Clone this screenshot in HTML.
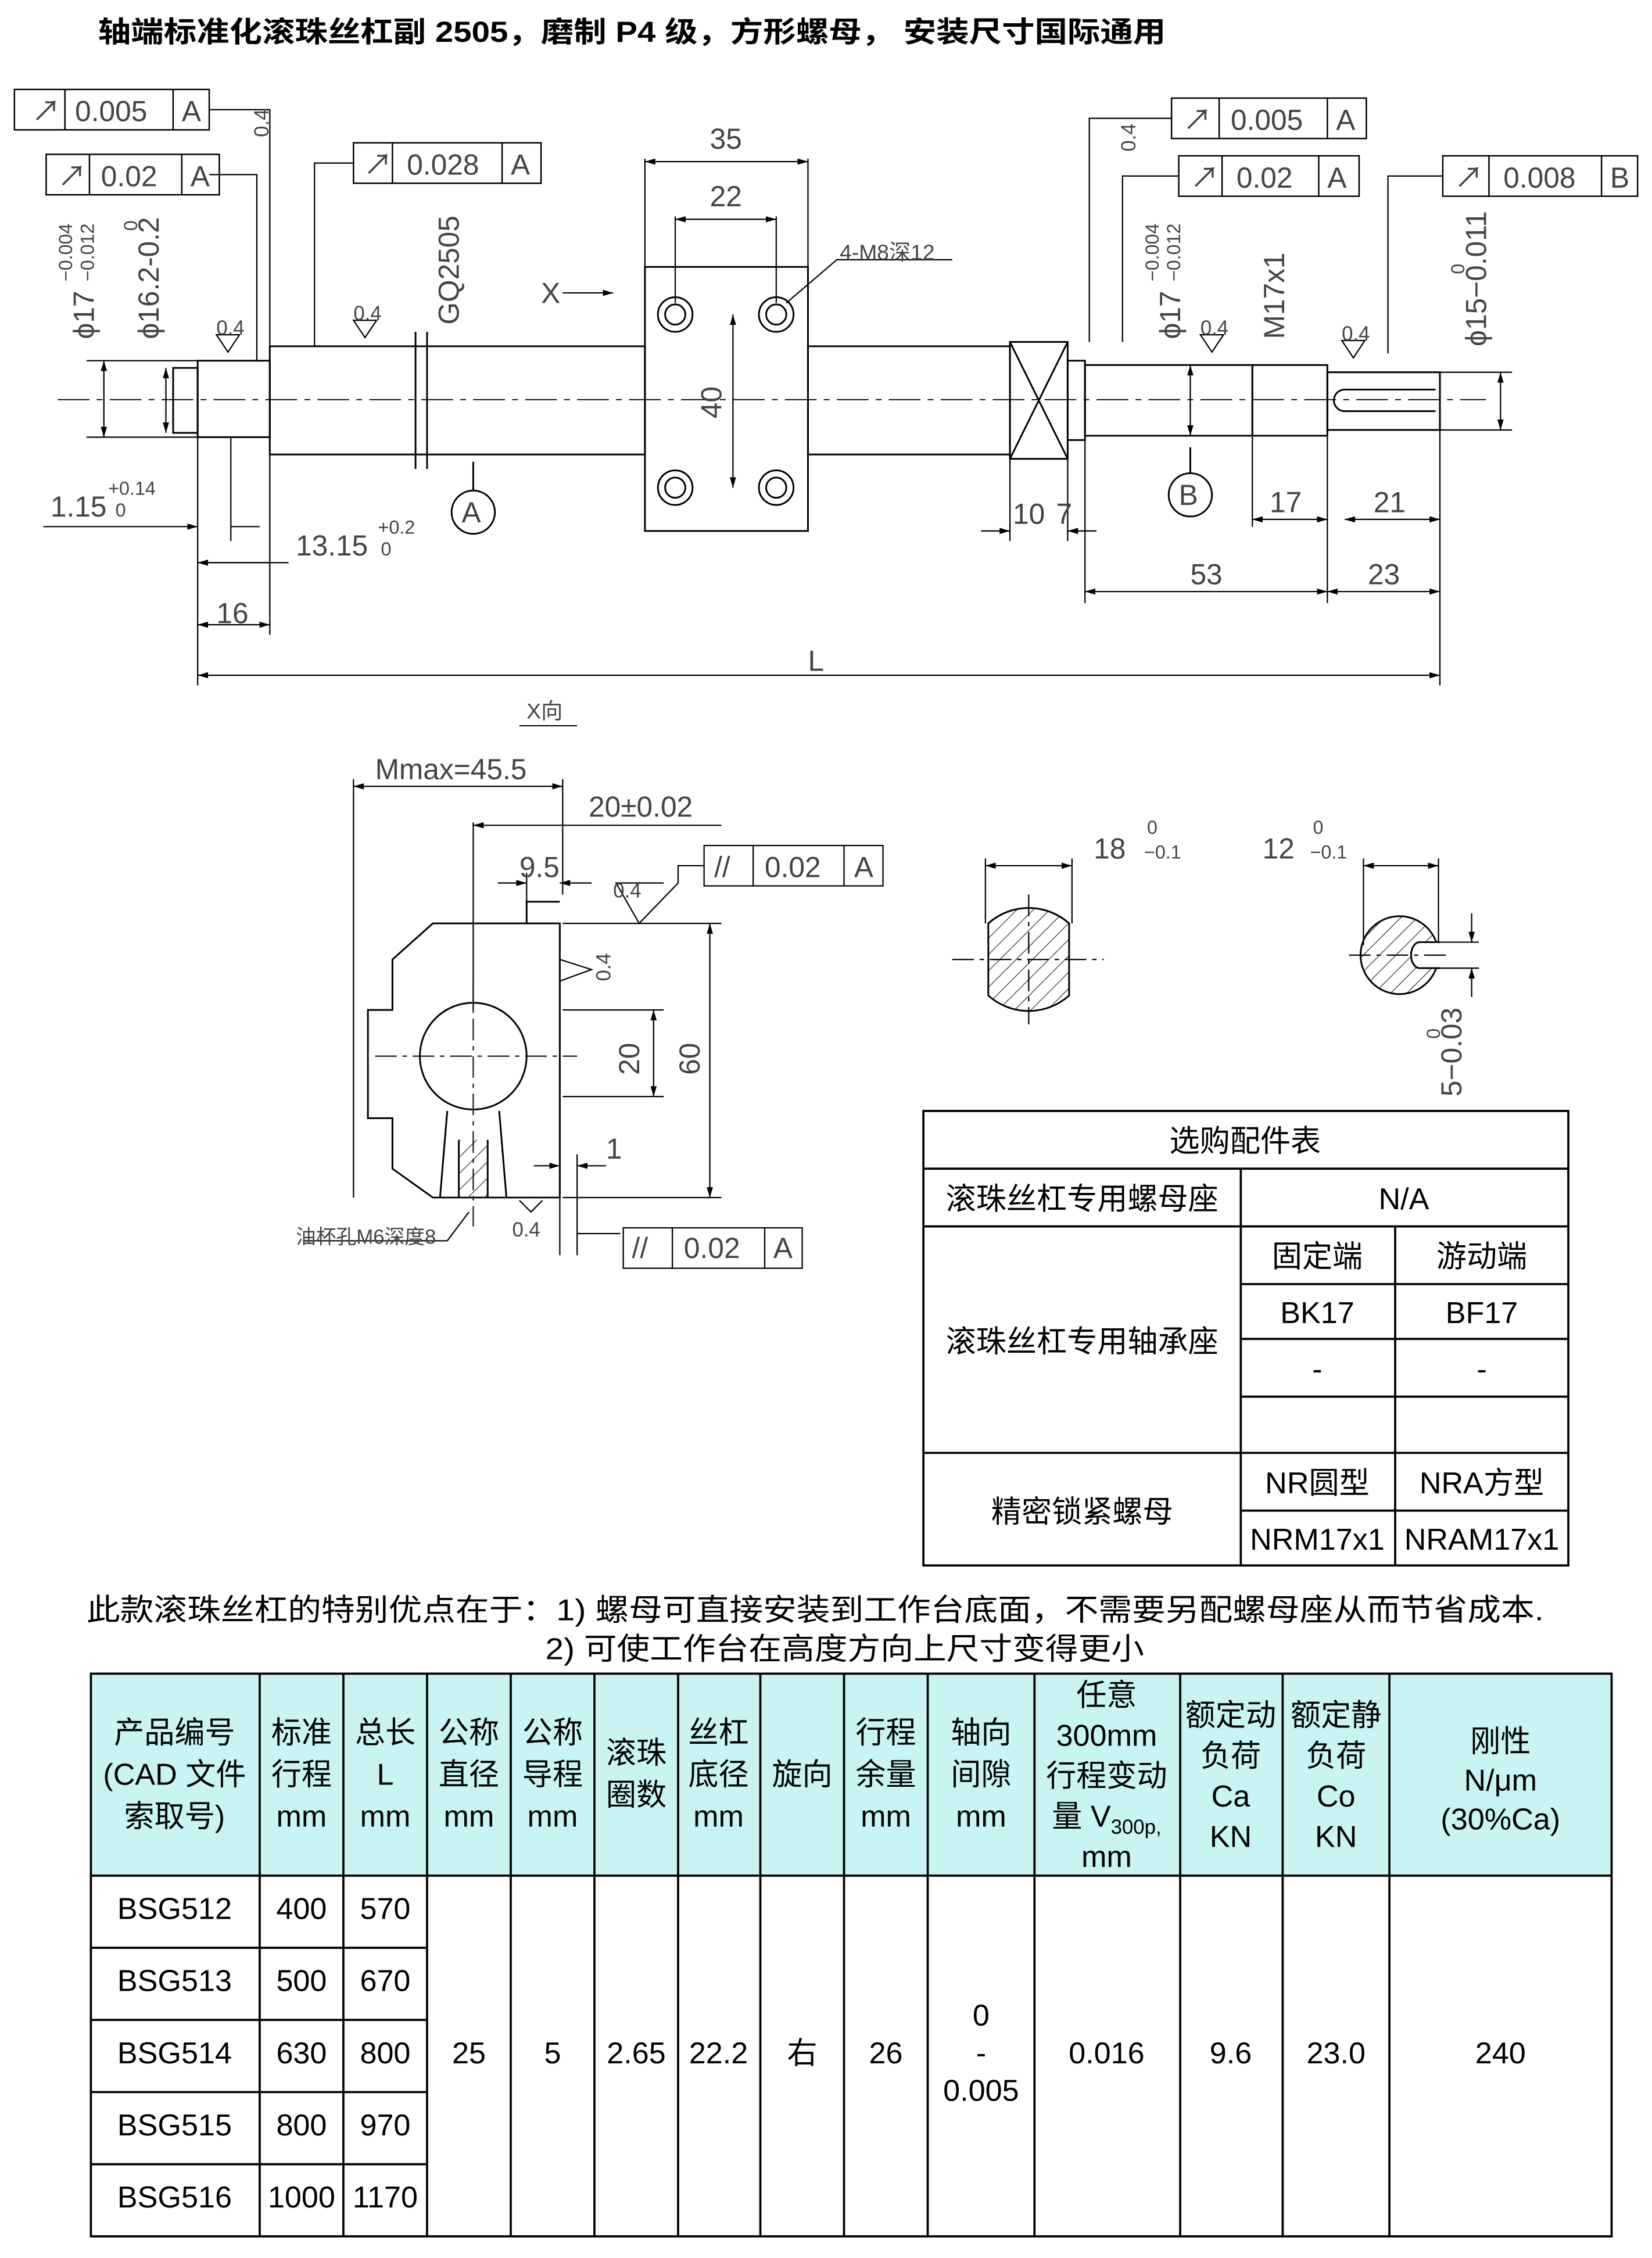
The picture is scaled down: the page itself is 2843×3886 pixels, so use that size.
<!DOCTYPE html>
<html><head><meta charset="utf-8"><style>
html,body{margin:0;padding:0;background:#fff}
svg{display:block}
text{font-family:"Liberation Sans","Noto Sans CJK SC",sans-serif}
.d{fill:#444;font-size:20px}
.t{fill:#000;font-size:21px}
</style></head><body>
<svg width="2843" height="3886" viewBox="0 0 1145 1565" preserveAspectRatio="none" xmlns="http://www.w3.org/2000/svg">
<defs>
<marker id="a" viewBox="0 0 10 10" refX="10" refY="5" markerWidth="8" markerHeight="8" orient="auto-start-reverse"><path d="M0,2 L10,5 L0,8z" fill="#000"/></marker>
<pattern id="h" width="8" height="8" patternUnits="userSpaceOnUse" patternTransform="rotate(45)"><line x1="0" y1="0" x2="0" y2="8" stroke="#333" stroke-width="1"/></pattern>
</defs>
<rect width="1145" height="1565" fill="#fff"/>
<text x="68" y="29" style="font-size:20px;font-weight:bold" fill="#000" textLength="740" lengthAdjust="spacingAndGlyphs">轴端标准化滚珠丝杠副 2505，磨制 P4 级，方形螺母， 安装尺寸国际通用</text>

<g stroke="#000" stroke-width="1.2" fill="none">
<rect x="120" y="255" width="17" height="45"/>
<rect x="137" y="250" width="50" height="53"/>
<rect x="187" y="240" width="260" height="75"/>
<rect x="560" y="240" width="140" height="75"/>
<rect x="447" y="185" width="113" height="183"/>
<rect x="700" y="237" width="40" height="81"/>
<path d="M700,237 L740,318 M740,237 L700,318"/>
<rect x="740" y="250" width="12" height="55"/>
<rect x="752" y="253" width="116" height="49"/>
<rect x="868" y="253" width="52" height="49"/>
<rect x="920" y="258" width="78" height="40"/>
<path d="M932,270 L995,270 M932,285 L995,285 M932,270 A7,7 0 0 0 932,285"/>
<circle cx="468" cy="218" r="12"/><circle cx="468" cy="218" r="7"/>
<circle cx="538" cy="218" r="12"/><circle cx="538" cy="218" r="7"/>
<circle cx="468" cy="338" r="12"/><circle cx="468" cy="338" r="7"/>
<circle cx="538" cy="338" r="12"/><circle cx="538" cy="338" r="7"/>
<path d="M288,230 L288,325 M296,230 L296,325"/>
<circle cx="328" cy="355" r="15"/><circle cx="825" cy="343" r="15"/>
<path d="M328,340 L328,320 M825,328 L825,310"/>
</g>
<line x1="40" y1="277" x2="1030" y2="277" stroke="#000" stroke-width="0.8" stroke-dasharray="22,5,4,5"/>
<text x="320" y="362" class="d">A</text><text x="817" y="350" class="d">B</text>

<g stroke="#000" stroke-width="0.9" fill="none">
<path d="M137,300 L137,475 M998,298 L998,475 M187,315 L187,440 M752,305 L752,418 M920,302 L920,418 M868,302 L868,365 M700,318 L700,375 M740,318 L740,375 M160,303 L160,375"/>
<line x1="137" y1="468" x2="998" y2="468" marker-start="url(#a)" marker-end="url(#a)"/>
<line x1="137" y1="433" x2="187" y2="433" marker-start="url(#a)" marker-end="url(#a)"/>
<line x1="752" y1="410" x2="920" y2="410" marker-start="url(#a)" marker-end="url(#a)"/>
<line x1="920" y1="410" x2="998" y2="410" marker-start="url(#a)" marker-end="url(#a)"/>
<line x1="868" y1="360" x2="920" y2="360" marker-start="url(#a)" marker-end="url(#a)"/>
<line x1="932" y1="360" x2="998" y2="360" marker-start="url(#a)" marker-end="url(#a)"/>
<line x1="680" y1="368" x2="700" y2="368" marker-end="url(#a)"/>
<line x1="760" y1="368" x2="740" y2="368" marker-end="url(#a)"/>
<line x1="30" y1="365" x2="137" y2="365" marker-end="url(#a)"/>
<line x1="180" y1="365" x2="160" y2="365"/>
<line x1="200" y1="390" x2="137" y2="390"/>
<line x1="137" y1="390" x2="187" y2="390" marker-start="url(#a)"/>
<line x1="447" y1="110" x2="447" y2="185"/><line x1="560" y1="110" x2="560" y2="185"/>
<line x1="447" y1="112" x2="560" y2="112" marker-start="url(#a)" marker-end="url(#a)"/>
<line x1="468" y1="150" x2="468" y2="210"/><line x1="538" y1="150" x2="538" y2="210"/>
<line x1="468" y1="152" x2="538" y2="152" marker-start="url(#a)" marker-end="url(#a)"/>
<line x1="508" y1="218" x2="508" y2="338" marker-start="url(#a)" marker-end="url(#a)"/>
<line x1="72" y1="250" x2="72" y2="303" marker-start="url(#a)" marker-end="url(#a)"/>
<line x1="60" y1="250" x2="137" y2="250"/><line x1="60" y1="303" x2="137" y2="303"/>
<line x1="115" y1="255" x2="115" y2="300" marker-start="url(#a)" marker-end="url(#a)"/>
<line x1="825" y1="253" x2="825" y2="302" marker-start="url(#a)" marker-end="url(#a)"/>
<line x1="1040" y1="258" x2="1040" y2="298" marker-start="url(#a)" marker-end="url(#a)"/>
<line x1="998" y1="258" x2="1048" y2="258"/><line x1="998" y1="298" x2="1048" y2="298"/>
<line x1="390" y1="203" x2="425" y2="203" marker-end="url(#a)"/>
<path d="M545,210 L580,180 L660,180"/>
<path d="M145,76 L187,76 L187,240 M145,121 L178,121 L178,250 M245,113 L218,113 L218,240 M812,82 L755,82 L755,237 M817,122 L778,122 L778,237 M1000,122 L962,122 L962,245"/>
<path d="M150,232 L158,244 L166,232 Z M245,222 L253,234 L261,222 Z M832,232 L840,244 L848,232 Z M930,236 L938,248 L946,236 Z"/>
</g>
<g stroke="#000" stroke-width="1" fill="none">
<rect x="10" y="62" width="135" height="28"/><line x1="45" y1="62" x2="45" y2="90"/><line x1="120" y1="62" x2="120" y2="90"/>
<rect x="32" y="107" width="120" height="28"/><line x1="62" y1="107" x2="62" y2="135"/><line x1="126" y1="107" x2="126" y2="135"/>
<rect x="245" y="99" width="130" height="28"/><line x1="272" y1="99" x2="272" y2="127"/><line x1="348" y1="99" x2="348" y2="127"/>
<rect x="812" y="68" width="135" height="28"/><line x1="845" y1="68" x2="845" y2="96"/><line x1="920" y1="68" x2="920" y2="96"/>
<rect x="817" y="108" width="125" height="28"/><line x1="847" y1="108" x2="847" y2="136"/><line x1="914" y1="108" x2="914" y2="136"/>
<rect x="1000" y="108" width="135" height="28"/><line x1="1032" y1="108" x2="1032" y2="136"/><line x1="1110" y1="108" x2="1110" y2="136"/>
</g>
<g class="d">
<text x="22" y="84">↗</text><text x="52" y="84">0.005</text><text x="126" y="84">A</text>
<text x="40" y="129">↗</text><text x="70" y="129">0.02</text><text x="132" y="129">A</text>
<text x="252" y="121">↗</text><text x="282" y="121">0.028</text><text x="354" y="121">A</text>
<text x="820" y="90">↗</text><text x="853" y="90">0.005</text><text x="926" y="90">A</text>
<text x="825" y="130">↗</text><text x="857" y="130">0.02</text><text x="920" y="130">A</text>
<text x="1008" y="130">↗</text><text x="1042" y="130">0.008</text><text x="1116" y="130">B</text>
<text x="492" y="103">35</text><text x="492" y="143">22</text>
<text x="582" y="180" style="font-size:15px">4-M8深12</text>
<text x="375" y="210">X</text>
<text x="35" y="358">1.15</text><text x="75" y="343" style="font-size:13px">+0.14</text><text x="80" y="358" style="font-size:13px">0</text>
<text x="205" y="385">13.15</text><text x="262" y="370" style="font-size:13px">+0.2</text><text x="264" y="385" style="font-size:13px">0</text>
<text x="150" y="432">16</text><text x="560" y="465">L</text>
<text x="825" y="405">53</text><text x="948" y="405">23</text>
<text x="880" y="355">17</text><text x="952" y="355">21</text>
<text x="702" y="363">10</text><text x="732" y="363">7</text>
<text x="150" y="232" style="font-size:14px">0.4</text><text x="245" y="222" style="font-size:14px">0.4</text>
<text x="832" y="232" style="font-size:14px">0.4</text><text x="930" y="236" style="font-size:14px">0.4</text>
<text transform="translate(65,235) rotate(-90)">ϕ17</text><text transform="translate(50,195) rotate(-90)" style="font-size:13px">−0.004</text><text transform="translate(65,195) rotate(-90)" style="font-size:13px">−0.012</text>
<text transform="translate(110,235) rotate(-90)">ϕ16.2-0.2</text><text transform="translate(95,160) rotate(-90)" style="font-size:13px">0</text>
<text transform="translate(318,225) rotate(-90)">GQ2505</text>
<text transform="translate(500,290) rotate(-90)">40</text>
<text transform="translate(818,235) rotate(-90)">ϕ17</text><text transform="translate(803,195) rotate(-90)" style="font-size:13px">−0.004</text><text transform="translate(818,195) rotate(-90)" style="font-size:13px">−0.012</text>
<text transform="translate(890,235) rotate(-90)">M17x1</text>
<text transform="translate(1030,240) rotate(-90)">ϕ15−0.011</text><text transform="translate(1015,190) rotate(-90)" style="font-size:13px">0</text>
<text transform="translate(186,95) rotate(-90)" style="font-size:14px">0.4</text>
<text transform="translate(787,105) rotate(-90)" style="font-size:14px">0.4</text>
</g>

<text x="365" y="498" class="d" style="font-size:15px">X向</text>
<line x1="360" y1="503" x2="400" y2="503" stroke="#000" stroke-width="0.8"/>
<g stroke="#000" stroke-width="1.2" fill="none">
<path d="M300,640 L388,640 L388,830 L300,830 L272,810 L272,775 L255,775 L255,700 L272,700 L272,665 Z"/>
<path d="M365,640 L365,625 L388,625"/>
<circle cx="328" cy="732" r="37"/>
<path d="M310,770 L305,830 M346,770 L351,830 M318,790 L318,830 M338,790 L338,830"/>
<rect x="318" y="790" width="20" height="40" fill="url(#h)" stroke="none"/>
</g>
<line x1="260" y1="732" x2="400" y2="732" stroke="#000" stroke-width="0.8" stroke-dasharray="15,4,3,4"/>
<line x1="328" y1="680" x2="328" y2="850" stroke="#000" stroke-width="0.8" stroke-dasharray="15,4,3,4"/>
<g stroke="#000" stroke-width="0.9" fill="none">
<path d="M245,540 L245,830 M390,540 L390,620 M328,570 L328,700 M365,605 L365,625 M390,640 L500,640 M390,830 L500,830 M390,700 L460,700 M390,760 L460,760 M388,800 L388,870 M400,800 L400,870 M400,855 L430,855"/>
<line x1="245" y1="545" x2="390" y2="545" marker-start="url(#a)" marker-end="url(#a)"/>
<line x1="328" y1="572" x2="500" y2="572" marker-start="url(#a)"/>
<line x1="345" y1="612" x2="365" y2="612" marker-end="url(#a)"/>
<line x1="410" y1="612" x2="388" y2="612" marker-end="url(#a)"/>
<line x1="492" y1="640" x2="492" y2="830" marker-start="url(#a)" marker-end="url(#a)"/>
<line x1="453" y1="700" x2="453" y2="760" marker-start="url(#a)" marker-end="url(#a)"/>
<line x1="370" y1="808" x2="388" y2="808" marker-end="url(#a)"/>
<line x1="420" y1="808" x2="400" y2="808" marker-end="url(#a)"/>
<path d="M488,600 L470,600 L470,612 L443,640 L427,612 L460,612"/>
<rect x="488" y="586" width="124" height="28"/><line x1="522" y1="586" x2="522" y2="614"/><line x1="585" y1="586" x2="585" y2="614"/>
<rect x="432" y="851" width="124" height="28"/><line x1="466" y1="851" x2="466" y2="879"/><line x1="530" y1="851" x2="530" y2="879"/>
<path d="M388,665 L410,672 L388,680 M360,832 L368,840 L376,832 M325,840 L310,860 L210,860"/>
</g>
<g class="d">
<text x="260" y="540">Mmax=45.5</text><text x="408" y="566">20±0.02</text><text x="360" y="608">9.5</text>
<text x="495" y="608">//</text><text x="530" y="608">0.02</text><text x="592" y="608">A</text>
<text x="438" y="872">//</text><text x="474" y="872">0.02</text><text x="536" y="872">A</text>
<text x="425" y="622" style="font-size:14px">0.4</text><text x="355" y="857" style="font-size:14px">0.4</text>
<text x="420" y="803">1</text>
<text transform="translate(443,745) rotate(-90)">20</text><text transform="translate(485,745) rotate(-90)">60</text>
<text transform="translate(423,680) rotate(-90)" style="font-size:14px">0.4</text>
<text x="205" y="862" style="font-size:14px">油杯孔M6深度8</text>
</g>

<g stroke="#000" stroke-width="1.2">
<path d="M685,640 A42,42 0 0 1 741,640 L741,690 A42,42 0 0 1 685,690 Z" fill="url(#h)"/>
<circle cx="970" cy="662" r="27" fill="url(#h)"/>
<path d="M998,653 L984,653 A6,9 0 0 0 984,671 L998,671" fill="#fff"/>
</g>
<g stroke="#000" stroke-width="0.9" fill="none">
<path d="M683,595 L683,640 M743,595 L743,640 M945,595 L945,655 M997,595 L997,653"/>
<line x1="683" y1="600" x2="743" y2="600" marker-start="url(#a)" marker-end="url(#a)"/>
<line x1="945" y1="600" x2="997" y2="600" marker-start="url(#a)" marker-end="url(#a)"/>
<line x1="660" y1="665" x2="765" y2="665" stroke-dasharray="15,4,3,4"/>
<line x1="713" y1="620" x2="713" y2="710" stroke-dasharray="15,4,3,4"/>
<line x1="935" y1="662" x2="1005" y2="662" stroke-dasharray="15,4,3,4"/>
<path d="M990,653 L1025,653 M990,671 L1025,671"/>
<line x1="1020" y1="633" x2="1020" y2="653" marker-end="url(#a)"/>
<line x1="1020" y1="691" x2="1020" y2="671" marker-end="url(#a)"/>
</g>
<g class="d">
<text x="758" y="595">18</text><text x="795" y="578" style="font-size:13px">0</text><text x="793" y="595" style="font-size:13px">−0.1</text>
<text x="875" y="595">12</text><text x="910" y="578" style="font-size:13px">0</text><text x="908" y="595" style="font-size:13px">−0.1</text>
<text transform="translate(1013,760) rotate(-90)">5−0.03</text><text transform="translate(998,720) rotate(-90)" style="font-size:13px">0</text>
</g>

<g stroke="#000" stroke-width="1.5" fill="none">
<rect x="640" y="770" width="447" height="315"/>
<path d="M640,810 L1087,810 M640,850 L1087,850 M860,810 L860,1085 M967,850 L967,1085 M860,890 L1087,890 M860,928 L1087,928 M860,968 L1087,968 M640,1007 L1087,1007 M860,1047 L1087,1047"/>
</g>
<g class="t" text-anchor="middle">
<text x="863" y="798">选购配件表</text>
<text x="750" y="838">滚珠丝杠专用螺母座</text><text x="973" y="838">N/A</text>
<text x="913" y="878">固定端</text><text x="1027" y="878">游动端</text>
<text x="913" y="917">BK17</text><text x="1027" y="917">BF17</text>
<text x="913" y="956">-</text><text x="1027" y="956">-</text>
<text x="750" y="937">滚珠丝杠专用轴承座</text>
<text x="750" y="1055">精密锁紧螺母</text>
<text x="913" y="1035">NR圆型</text><text x="1027" y="1035">NRA方型</text>
<text x="913" y="1074">NRM17x1</text><text x="1027" y="1074">NRAM17x1</text>
</g>
<text x="60" y="1123" class="t" textLength="1010" lengthAdjust="spacingAndGlyphs">此款滚珠丝杠的特别优点在于：1)  螺母可直接安装到工作台底面，不需要另配螺母座从而节省成本.</text>
<text x="378" y="1150" class="t" textLength="415" lengthAdjust="spacingAndGlyphs">2)  可使工作台在高度方向上尺寸变得更小</text>

<rect x="63" y="1160" width="1054" height="140" fill="#c9f4f4"/>
<g stroke="#000" stroke-width="1.5" fill="none">
<rect x="63" y="1160" width="1054" height="390"/>
<path d="M63,1300 L1117,1300 M63,1350 L296,1350 M63,1400 L296,1400 M63,1450 L296,1450 M63,1500 L296,1500"/>
<path d="M180,1160 V1550 M238,1160 V1550 M296,1160 V1550 M354,1160 V1550 M412,1160 V1550 M470,1160 V1550 M527,1160 V1550 M585,1160 V1550 M643,1160 V1550 M717,1160 V1550 M818,1160 V1550 M889,1160 V1550 M963,1160 V1550"/>
</g>
<g class="t" text-anchor="middle">
<text x="121" y="1208">产品编号</text><text x="121" y="1237">(CAD 文件</text><text x="121" y="1266">索取号)</text>
<text x="209" y="1208">标准</text><text x="209" y="1237">行程</text><text x="209" y="1266">mm</text>
<text x="267" y="1208">总长</text><text x="267" y="1237">L</text><text x="267" y="1266">mm</text>
<text x="325" y="1208">公称</text><text x="325" y="1237">直径</text><text x="325" y="1266">mm</text>
<text x="383" y="1208">公称</text><text x="383" y="1237">导程</text><text x="383" y="1266">mm</text>
<text x="441" y="1222">滚珠</text><text x="441" y="1251">圈数</text>
<text x="498" y="1208">丝杠</text><text x="498" y="1237">底径</text><text x="498" y="1266">mm</text>
<text x="556" y="1237">旋向</text>
<text x="614" y="1208">行程</text><text x="614" y="1237">余量</text><text x="614" y="1266">mm</text>
<text x="680" y="1208">轴向</text><text x="680" y="1237">间隙</text><text x="680" y="1266">mm</text>
<text x="767" y="1182">任意</text><text x="767" y="1210">300mm</text><text x="767" y="1238">行程变动</text><text x="767" y="1266">量 V<tspan style="font-size:14px" dy="5">300p,</tspan></text><text x="767" y="1294">mm</text>
<text x="853" y="1196">额定动</text><text x="853" y="1224">负荷</text><text x="853" y="1252">Ca</text><text x="853" y="1280">KN</text>
<text x="926" y="1196">额定静</text><text x="926" y="1224">负荷</text><text x="926" y="1252">Co</text><text x="926" y="1280">KN</text>
<text x="1040" y="1214">刚性</text><text x="1040" y="1241">N/μm</text><text x="1040" y="1268">(30%Ca)</text>
<text x="121" y="1330">BSG512</text><text x="209" y="1330">400</text><text x="267" y="1330">570</text>
<text x="121" y="1380">BSG513</text><text x="209" y="1380">500</text><text x="267" y="1380">670</text>
<text x="121" y="1430">BSG514</text><text x="209" y="1430">630</text><text x="267" y="1430">800</text>
<text x="121" y="1480">BSG515</text><text x="209" y="1480">800</text><text x="267" y="1480">970</text>
<text x="121" y="1530">BSG516</text><text x="209" y="1530">1000</text><text x="267" y="1530">1170</text>
<text x="325" y="1430">25</text><text x="383" y="1430">5</text><text x="441" y="1430">2.65</text><text x="498" y="1430">22.2</text>
<text x="556" y="1430">右</text><text x="614" y="1430">26</text>
<text x="680" y="1404">0</text><text x="680" y="1430">-</text><text x="680" y="1456">0.005</text>
<text x="767" y="1430">0.016</text><text x="853" y="1430">9.6</text><text x="926" y="1430">23.0</text><text x="1040" y="1430">240</text>
</g>
</svg>
</body></html>
